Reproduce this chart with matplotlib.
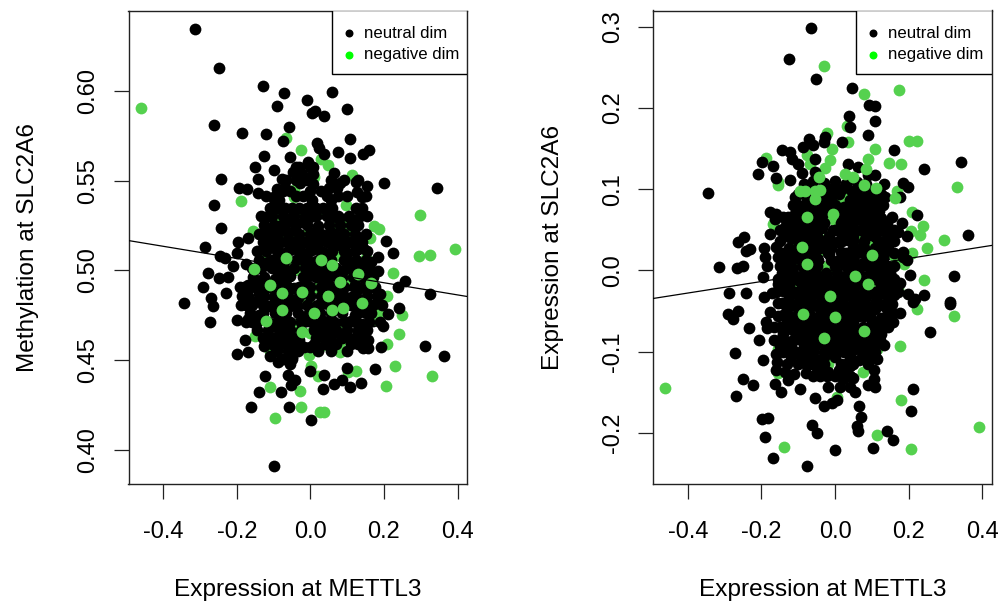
import matplotlib
matplotlib.use("Agg")
import matplotlib.pyplot as plt
from matplotlib.patches import Rectangle

plt.rcParams['font.family'] = ['Liberation Sans', 'DejaVu Sans']

BLACK = '#000000'
GREEN = '#55D14F'
LEG_GREEN = '#00FF00'

x_label = 'Expression at METTL3'
left_ylabel = 'Methylation at SLC2A6'
right_ylabel = 'Expression at SLC2A6'
legend_labels = ['neutral dim', 'negative dim']
x_ticks = [-0.4, -0.2, 0.0, 0.2, 0.4]
left_yticks = [0.40, 0.45, 0.50, 0.55, 0.60]
right_yticks = [-0.2, -0.1, 0.0, 0.1, 0.2, 0.3]
left_fit_y = [0.5167, 0.4855]
right_fit_y = [-0.0345, 0.0308]

left_neutral_outer = [
(-0.314,.635),(-.249,.613),(-.128,.603),(-.071,.599),(.058,.5995),(-.092,.592),(-.010,.595),(.005,.588),(.012,.589),(.038,.586),(.099,.590),
(-.261,.581),(-.187,.577),(-.120,.576),(-.058,.580),(-.075,.5725),(.107,.5735),(.019,.571),(.024,.5685),(.038,.565),(.076,.566),(.107,.563),
(.142,.565),(.158,.567),(-.125,.564),(-.055,.5635),(-.151,.558),(-.098,.556),(-.006,.5605),(-.038,.558),(-.047,.555),(-.024,.554),(.008,.558),
(.006,.554),(.065,.5545),(-.242,.551),(-.142,.551),(-.078,.551),(-.029,.549),(.006,.548),(.080,.549),(.123,.5495),(.154,.547),(.201,.549),
(.343,.546),(-.195,.546),(-.172,.5455),(-.142,.5435),(-.092,.5455),(-.068,.546),(.05,.546),(.072,.546),(.128,.544),(.14,.541),
(-.261,.5365),(-.242,.5235),(-.287,.513),(-.246,.508),(-.232,.507),(-.21,.5025),(-.196,.516),(-.169,.518),(-.2,.51),(-.175,.5035),
(-.278,.4987),(-.248,.4957),(-.223,.4963),(-.291,.4907),(-.27,.4845),(-.23,.4874),(-.192,.491),(-.17,.492),(-.185,.486),(.205,.5167),(.225,.5097),
(.143,.5126),(.184,.5074),(.165,.505),(.325,.487),(.257,.494),(.239,.491),(.184,.4996),(.189,.487),(.145,.5),
(-.344,.482),(-.266,.480),(-.272,.4715),(-.2,.4725),(-.169,.473),(-.178,.461),(-.199,.4535),(-.171,.4545),(-.125,.458),(-.094,.4563),(-.11,.452),
(-.089,.449),(-.124,.441),(-.14,.432),(-.08,.432),(-.162,.424),(-.057,.4237),(.0015,.4163),(-.098,.391),(-.056,.448),(-.051,.4517),(-.06,.4417),
(-.042,.439),(-.054,.436),(-.018,.4573),(0,.4573),(-.001,.4437),(.036,.4415),(.035,.434),(.065,.4365),(.085,.4386),(.107,.435),(.137,.437),
(.1,.4455),(.175,.445),(.311,.458),(.362,.452),(.143,.4567),(.157,.4567),(.193,.4572),(.24,.479),(.211,.4758),(.197,.469),(.157,.461),(.13,.465),(.089,.463),
]
left_neutral_back = [
(-.12,.53),(-.09,.531),(-.06,.529),(-.03,.533),(0,.53),(.03,.532),(.06,.531),(.09,.529),(.12,.527),
(-.13,.521),(-.105,.523),(-.075,.52),(-.045,.522),(-.015,.52),(.015,.522),(.045,.52),(.075,.522),(.105,.52),(.135,.518),
(-.135,.511),(-.11,.513),(-.08,.51),(-.05,.512),(-.02,.51),(.01,.512),(.04,.51),(.07,.512),(.1,.51),(.13,.512),
(-.15,.501),(-.12,.503),(-.09,.5),(-.06,.502),(-.03,.5),(0,.502),(.03,.5),(.06,.502),(.09,.5),(.12,.502),(.15,.5),
(-.165,.491),(-.135,.493),(-.105,.49),(-.075,.492),(-.045,.49),(-.015,.492),(.015,.49),(.045,.492),(.075,.49),(.105,.492),(.135,.49),(.165,.491),
(-.175,.481),(-.145,.483),(-.115,.48),(-.085,.482),(-.055,.48),(-.025,.482),(.005,.48),(.035,.482),(.065,.48),(.095,.482),(.125,.48),(.155,.482),(.185,.48),
(-.16,.471),(-.13,.473),(-.1,.47),(-.07,.472),(-.04,.47),(-.01,.472),(.02,.47),(.05,.472),(.08,.47),(.11,.472),(.14,.47),(.17,.472),
(-.12,.463),(-.09,.461),(-.06,.463),(-.03,.461),(.03,.463),(.06,.461),(.1,.463),(.135,.461),
]
left_negative = [
(-.4606,.5906),(-.067,.574),(-.026,.567),(.028,.562),(.047,.559),(.112,.5535),(.01,.552),(-.045,.545),(-.189,.539),(-.045,.541),(.098,.5365),(.298,.531),
(.173,.525),(.187,.523),(.103,.522),(-.155,.522),(.163,.518),(.392,.512),(.296,.508),(.325,.5085),(.225,.4987),
(.209,.486),(-.06,.5195),(.04,.533),(.07,.527),(.09,.524),(-.095,.53),(-.025,.533),(-.012,.52),
(-.125,.51),(-.045,.505),(-.03,.5),(.08,.508),(.15,.507),(.11,.495),(-.007,.482),(.02,.49),
(.25,.475),(.175,.473),(.24,.4647),(-.151,.4637),(.207,.459),(.03,.458),(.08,.4544),(-.003,.4526),(.001,.4466),
(.23,.4468),(.103,.4433),(.123,.444),(.33,.441),(.021,.441),(.205,.4355),(-.11,.435),(-.028,.433),(-.026,.424),(-.096,.4176),(.026,.421),(.037,.421),
(.19,.476),(.09,.467),(.0,.465),(-.11,.455),(.08,.46),(-.05,.47),
]
left_neutral_front = [
(-.1,.54),(-.07,.535),(-.085,.525),(-.05,.53),(-.02,.527),(.005,.537),(.02,.525),(.05,.535),(.07,.53),(-.1,.515),(-.06,.516),(-.03,.515),(.0,.515),(.03,.517),
(.06,.515),(.095,.514),(-.115,.505),(-.085,.505),(-.015,.505),(.01,.505),(.045,.507),(.105,.505),(-.095,.495),(-.055,.497),(-.005,.497),(.035,.495),(.07,.497),
(.12,.492),(-.14,.487),(-.1,.485),(-.045,.483),(.015,.48),(.075,.485),(.115,.486),(-.08,.475),(-.02,.474),(.035,.472),(.065,.465),(.12,.475),(-.06,.467),(-.07,.46),(-.05,.456),
(.04,.465),(.05,.468),(.15,.476),(-.14,.475),
]
left_neutral_fill_rows = [
(.5445,[-.075,-.055,.0,.03]),(.5395,[-.085,.005,.055]),(.535,[-.11,-.09,-.05,-.03,-.01,.015,.035,.06,.125,.14]),
(.5255,[-.125,-.1,-.07,-.04,-.01,.05,.08,.11,.13]),(.516,[-.13,-.11,-.08,-.045,-.015,.015,.045,.075,.11,.14]),
(.506,[-.14,-.105,-.07,-.04,-.01,.02,.055,.09,.125,.15]),(.4965,[-.155,-.125,-.08,-.06,-.02,.015,.05,.085,.115,.14,.17]),
(.486,[-.17,-.125,-.09,-.06,-.03,.0,.03,.06,.09,.125,.155,.18]),(.476,[-.165,-.13,-.095,-.065,-.035,-.005,.025,.055,.085,.13,.165]),
(.467,[-.145,-.115,-.085,-.055,-.025,.01,.04,.07,.1,.13,.155]),(.459,[-.105,-.08,-.05,.01,.04,.07,.11,.13]),(.4505,[-.075,-.05]),
(.5575,[-.03,.0]),(.5505,[-.065,-.04,-.01,.055,.09,.13]),(.5415,[-.12,-.095,-.04,-.02,.045,.075,.1,.15]),
(.5305,[-.135,-.105,-.075,-.045,-.015,.015,.045,.075,.105,.135,.155]),(.5205,[-.14,-.115,-.09,-.06,-.03,.0,.03,.06,.09,.12,.15]),
(.511,[-.145,-.12,-.09,-.06,-.03,.0,.03,.06,.09,.12,.155]),(.5015,[-.16,-.135,-.105,-.075,-.045,-.015,.015,.04,.07,.105,.135,.16]),
(.491,[-.18,-.15,-.12,-.09,-.06,-.03,.0,.03,.06,.09,.12,.15,.175]),(.481,[-.19,-.16,-.13,-.1,-.07,-.04,-.01,.02,.05,.08,.11,.14,.17,.195]),
(.4715,[-.175,-.145,-.115,-.085,-.055,-.025,.005,.035,.065,.095,.125,.16,.19]),(.4625,[-.13,-.1,-.07,-.04,.015,.05,.085,.12,.145]),
(.455,[-.09,-.06,-.035,.02,.055,.1]),
]
left_negative_top = [
(.058,.503),(.08,.4935),(.166,.493),(-.076,.4875),(-.022,.488),(.049,.486),(-.077,.478),(.089,.479),(-.022,.4656),(-.153,.501),
(.03,.506),(-.065,.507),(.13,.498),(.14,.482),(-.12,.472),(.01,.476),(.06,.478),(-.11,.492),
]

right_neutral_outer = [
(-.066,.2986),(-.124,.26),(-.052,.236),(.046,.2244),(.092,.204),(.109,.2026),(.109,.184),(.038,.19),(.041,.177),(.09,.167),(-.07,.162),(-.086,.152),(-.059,.155),
(-.03,.158),(-.027,.164),(.018,.158),(-.145,.1477),(-.122,.1456),(-.199,.134),(-.168,.128),(-.118,.137),(-.1,.131),(-.054,.137),(-.09,.12),(-.208,.119),(-.159,.114),
(-.122,.111),(-.054,.121),(-.084,.1066),(-.344,.095),(.161,.1477),(.243,.1247),(.342,.133),(.036,.131),(.063,.127),(.09,.117),(.109,.117),(.133,.1066),(.186,.1075),
(.199,.103),(.177,.09),(.136,.09),(.116,.086),(.222,.0677),(.181,.058),(.362,.044),(.195,.042),(.14,.04),(.17,.047),(-.177,.072),(-.159,.07),(-.163,.0636),(-.127,.0656),
(-.109,.07),(-.136,.053),(-.177,.045),(-.247,.041),(-.263,.035),(-.231,.0267),(-.242,.024),(-.193,.028),(-.16,.0287),(-.19,.0164),(-.154,.0164),(-.131,.0144),(-.184,.0053),
(-.14,.004),(-.314,.0037),(-.267,.003),(-.249,.006),(-.195,-.008),(-.154,-.0164),(-.287,-.028),(-.242,-.0275),(-.172,-.0275),(-.193,-.033),(.204,-.005),(.323,-.007),
(.242,-.03),(.3125,-.039),(.186,.0164),(.195,.013),(.186,.0226),(.149,-.004),(.177,-.016),(.168,-.02),(.199,-.029),(.217,-.035),
(-.292,-.0533),(-.263,-.05),(-.278,-.06),(-.233,-.0705),(-.177,-.051),(-.1875,-.0636),(-.184,-.0705),(-.206,-.086),(-.272,-.1013),(-.197,-.11),(-.249,-.133),(-.224,-.1415),
(-.27,-.155),(-.161,-.1025),(-.1585,-.113),(-.161,-.122),(-.136,-.125),(-.111,-.128),(-.127,-.135),(-.163,-.1395),(-.148,-.15),(-.095,-.1455),(-.08,-.126),(-.054,-.157),
(-.018,-.1435),(-.021,-.1304),(-.03,-.167),(-.009,-.163),(.006,-.16),(-.199,-.183),(-.181,-.182),(-.189,-.205),(-.168,-.2305),(-.077,-.2407),(-.0616,-.19),(-.05,-.2),
(0,-.2215),(.065,-.167),(.0716,-.1805),(.059,-.191),(.063,-.197),(.14,-.197),(.1585,-.2084),(.104,-.219),(.2056,-.173),(.213,-.1464),(.258,-.0763),(.3125,-.041),
(.109,-.1436),(.09,-.1415),(.107,-.133),(.106,-.123),(.113,-.1087),(.054,-.15),(.041,-.144),(.023,-.133),(.05,-.132),(.014,-.144),(.133,-.092),(.122,-.085),(.0725,-.1005),
(.05,-.113),(.145,-.0697),(.1585,-.0636),(.177,-.052),(.157,-.052),(.154,-.041),(.213,-.039),
]
right_neutral_back = [
(-.06,.11),(-.03,.108),(.0,.11),(.03,.107),(.06,.109),(-.09,.095),(-.06,.092),(-.03,.096),(0,.093),(.03,.095),(.06,.092),(.09,.095),
(-.1,.08),(-.07,.083),(-.04,.08),(-.01,.082),(.02,.08),(.05,.083),(.08,.08),(.11,.078),(-.12,.065),(-.09,.068),(-.06,.065),(-.03,.067),(0,.065),(.03,.068),(.06,.065),(.09,.067),(.125,.065),
(-.125,.05),(-.095,.053),(-.065,.05),(-.035,.052),(-.005,.05),(.025,.053),(.055,.05),(.085,.052),(.125,.05),(-.115,.035),(-.085,.038),(-.055,.035),(-.025,.037),(.005,.035),(.035,.038),(.065,.035),(.095,.037),(.13,.035),
(-.135,.02),(-.105,.023),(-.075,.02),(-.045,.022),(-.015,.02),(.015,.023),(.045,.02),(.075,.022),(.105,.02),(.14,.02),
(-.13,.005),(-.1,.008),(-.07,.005),(-.04,.007),(-.01,.005),(.02,.008),(.05,.005),(.08,.007),(.11,.005),(.14,.005),
]
right_negative = [
(-.029,.2514),(.173,.2215),(.08,.2166),(-.023,.169),(.032,.178),(.036,.158),(.201,.159),(.224,.159),(.11,.15),(-.188,.1386),(-.007,.149),(-.077,.1415),(-.014,.136),(-.068,.131),
(.089,.137),(.148,.132),(.178,.131),(-.027,.126),(.331,.1025),(-.154,.1046),(-.156,.109),
(.168,.098),(.21,.072),(-.005,.0636),(-.168,.057),(.238,.055),(.206,.048),(.14,.046),
(.231,.044),(.296,.038),(.249,.0275),(-.032,.037),(-.059,.0246),(-.027,.0246),(.208,.0217),(.163,.017),(-.109,.0115),(0,.004),(.188,.0074),
(.242,-.0115),(.1,-.0144),(.0815,-.0185),(.032,-.009),(.17,-.0226),(-.118,-.0144),(.222,-.047),(.323,-.0566),
(.102,-.069),(.1775,-.093),(.104,-.0935),(.113,-.0964),(-.461,-.145),(.075,-.125),(-.154,-.1263),(.179,-.16),(.0045,-.156),(.392,-.193),(.113,-.2026),
(-.139,-.217),(.207,-.22),(-.059,-.1087),(-.018,-.115),(0,-.1005),(-.154,-.0964),(-.03,.03),(.01,.06),(.06,.04),(-.04,.0),(.02,.09),(-.02,.005),(.09,.03),(-.1,.03),
]
right_neutral_front = [
(-.11,.09),(.0,.1),(.045,.098),(.08,.09),(-.09,.078),(-.03,.085),(.025,.078),(.1,.08),(-.11,.06),(-.055,.057),(.035,.06),(.07,.072),(.1,.055),(-.12,.04),(-.05,.042),(.03,.045),(.075,.03),(.12,.025),
(-.1,.015),(-.06,.012),(-.02,.03),(.03,.015),(.07,.008),(.13,.012),(-.14,-.01),(-.1,-.012),(-.07,-.012),(-.04,-.01),(-.01,-.013),(.02,-.01),(.05,-.02),(.08,-.03),(.11,-.01),(.135,-.012),
(-.14,-.025),(-.11,-.027),(-.08,-.024),(-.05,-.028),(-.02,-.024),(.01,-.027),(.04,-.03),(.07,-.04),(.1,-.028),(.13,-.028),(.16,-.03),
(-.145,-.04),(-.115,-.042),(-.085,-.039),(-.055,-.043),(-.025,-.04),(.005,-.043),(.035,-.045),(.065,-.05),(.095,-.045),(.125,-.042),
(-.14,-.055),(-.11,-.057),(-.08,-.054),(-.05,-.058),(-.02,-.055),(.02,-.058),(.05,-.06),(.08,-.056),(.125,-.058),
(-.15,-.07),(-.12,-.072),(-.09,-.069),(-.06,-.073),(-.03,-.07),(0,-.073),(.03,-.07),(.06,-.073),(.09,-.085),(.12,-.07),
(-.165,-.085),(-.13,-.088),(-.1,-.084),(-.07,-.088),(-.04,-.085),(-.01,-.09),(.02,-.085),(.05,-.088),(.08,-.09),
(-.14,-.1),(-.105,-.1),(-.075,-.102),(-.045,-.11),(-.02,-.1),(.025,-.1),(.05,-.098),(.065,-.11),(-.07,-.115),(-.05,-.12),(-.02,-.125),(.015,-.115),(.04,-.118),
]
right_neutral_fill_rows = [
(.1,[-.07,-.01,.02,.06]),(.087,[-.075,-.045,-.015,.04,.07,.1,.12]),(.073,[-.105,-.08,-.05,-.02,.01,.04,.09,.12]),
(.058,[-.13,-.1,-.075,-.03,.015,.05,.08,.115,.14]),(.043,[-.13,-.105,-.07,-.015,.02,.05,.085,.11,.15]),
(.028,[-.125,-.1,-.07,-.04,-.01,.05,.08,.11,.145]),(.013,[-.12,-.085,-.045,-.01,.01,.05,.09,.12]),
(-.003,[-.145,-.115,-.085,-.055,-.025,.005,.035,.065,.095,.125,.15]),(-.018,[-.125,-.09,-.06,-.03,0,.03,.06,.125,.15]),
(-.033,[-.125,-.095,-.065,-.035,-.005,.025,.055,.085,.115,.145]),(-.048,[-.13,-.1,-.07,-.04,-.01,.02,.05,.08,.11,.14]),
(-.063,[-.13,-.1,-.07,-.04,-.01,.02,.05,.1,.135]),(-.078,[-.14,-.105,-.075,-.045,-.015,.015,.045,.075,.105,.125]),
(-.093,[-.15,-.12,-.085,-.055,-.025,.005,.035,.065,.105]),(-.107,[-.12,-.09,-.06,-.03,.0,.04,.08,.09]),(-.122,[-.04,.01,.03]),
(.107,[-.03,.03,.085]),(.094,[-.1,-.03,.01,.055,.11,.125]),(.08,[-.115,-.06,.0,.06,.13]),
(.066,[-.14,-.11,-.07,-.04,.02,.055,.105,.155]),(.05,[-.15,-.12,-.09,-.05,.0,.035,.07,.1,.13,.16]),
(.036,[-.15,-.1,-.06,-.03,.02,.05,.08,.12,.16]),(.021,[-.145,-.11,-.06,-.02,.03,.06,.1,.13,.16]),
(.005,[-.15,-.12,-.09,-.05,.0,.03,.065,.1,.13,.16]),(-.01,[-.155,-.12,-.08,-.05,-.02,.01,.04,.07,.1,.13,.16]),
(-.026,[-.16,-.13,-.1,-.07,-.04,-.01,.02,.05,.08,.11,.14,.17]),(-.04,[-.155,-.125,-.1,-.07,-.04,-.01,.02,.05,.08,.11,.14]),
(-.056,[-.155,-.125,-.095,-.065,-.035,-.005,.035,.065,.095,.14]),(-.07,[-.165,-.135,-.105,-.075,-.045,-.015,.015,.045,.075,.105,.135]),
(-.086,[-.15,-.115,-.085,-.055,-.025,.005,.035,.065,.1]),(-.1,[-.125,-.09,-.06,-.03,.0,.04,.09,.11]),
(-.115,[-.13,-.1,-.08,-.06,-.03,.03,.05,.09]),(-.13,[-.06,-.04,.0,.04]),
]
right_negative_top = [
(-.095,.098),(-.082,.0976),(-.054,.098),(-.04,.099),(-.043,.115),(.05,.115),(.08,.1046),(.111,.101),(.163,.089),(-.005,.07),(-.075,.0664),(-.09,.0287),(-.077,.008),
(.1,.0185),(.054,-.007),(.09,-.0164),(-.0136,-.031),(-.088,-.0533),(0,-.0574),(.08,-.0747),(-.03,-.0833),(.027,.119),(-.054,.088),(.084,.125),
]

DOT_AREA = 72
LEG_BOX = (0.6), 0.8668, 0.4, 0.1332


def panel(ax, fit_y, outer, back, neg, front, fill_rows, top, ylim, yticks, ylabel, fmt, label_x):
    fill = [(x, y) for y, xs in fill_rows for x in xs]
    for pts, c, z in [(back, BLACK, 2), (neg, GREEN, 3), (outer, BLACK, 4), (front, BLACK, 4), (fill, BLACK, 4), (top, GREEN, 4.5)]:
        ax.scatter([p[0] for p in pts], [p[1] for p in pts], s=DOT_AREA, c=c, linewidths=0, zorder=z)
    ax.plot([-0.4946, 0.4258], fit_y, color='black', lw=0.9, zorder=5)
    ax.set_xlim(-0.4946, 0.4258)
    ax.set_ylim(*ylim)
    ax.set_xticks(x_ticks)
    ax.set_xticklabels([f'{t:.1f}' for t in x_ticks])
    ax.set_yticks(yticks)
    ax.set_yticklabels([fmt.format(t) for t in yticks], rotation=90, va='center')
    ax.tick_params(length=11, width=0.9, labelsize=17, pad=10, color='#222222')
    ax.tick_params(axis='x', pad=16)
    for s in ax.spines.values():
        s.set_linewidth(1.0)
        s.set_color('#222222')
    ax.set_xlabel(x_label, fontsize=17.6, va='center')
    ax.xaxis.set_label_coords(0.5, -0.2245)
    ax.set_ylabel(ylabel, fontsize=17.6, va='center')
    ax.yaxis.set_label_coords(label_x, 0.5)
    ax.add_patch(Rectangle((LEG_BOX[0], LEG_BOX[1]), LEG_BOX[2], LEG_BOX[3], transform=ax.transAxes,
                           fc='white', ec='black', lw=1.0, zorder=10))
    for (yy, col, lab) in [(0.9515, BLACK, legend_labels[0]), (0.907, LEG_GREEN, legend_labels[1])]:
        ax.scatter([0.6505], [yy], s=33, c=col, linewidths=0, transform=ax.transAxes, zorder=11)
        ax.text(0.695, yy, lab, transform=ax.transAxes, fontsize=12.1, va='center', ha='left', zorder=11)


fig = plt.figure(figsize=(9.98, 6.03), dpi=100)
ax1 = fig.add_axes([128.5/998, (603-483.7)/603, 338.5/998, 473.2/603])
ax2 = fig.add_axes([653/998, (603-483.7)/603, 338.7/998, 473.2/603])
panel(ax1, left_fit_y, left_neutral_outer, left_neutral_back, left_negative, left_neutral_front, left_neutral_fill_rows,
      left_negative_top, (0.381, 0.6451), left_yticks, left_ylabel, '{:.2f}', -0.297)
panel(ax2, right_fit_y, right_neutral_outer, right_neutral_back, right_negative, right_neutral_front, right_neutral_fill_rows,
      right_negative_top, (-0.2624, 0.3199), right_yticks, right_ylabel, '{:.1f}', -0.295)
fig.savefig('out.png', dpi=100)
